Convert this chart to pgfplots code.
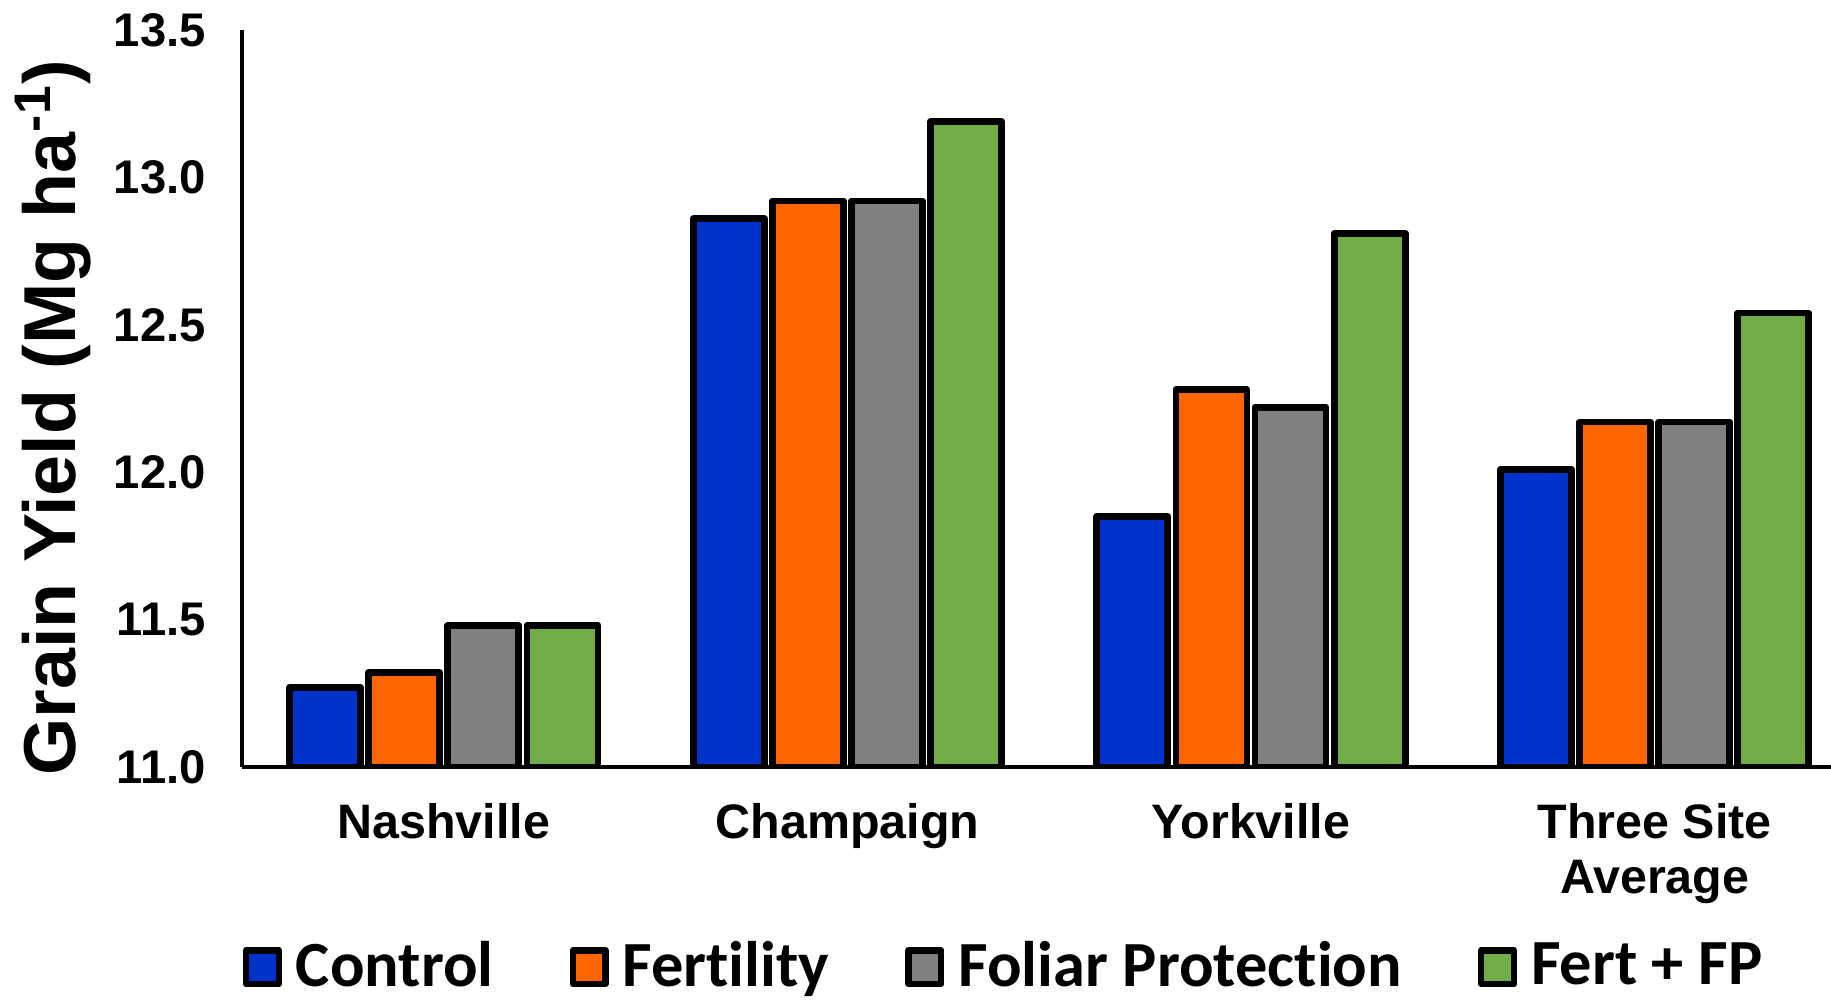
\documentclass[border=0pt]{standalone}
\usepackage{pgfplots}
\pgfplotsset{compat=1.18}
\usepackage{fontspec}
\setmainfont{Liberation Sans}
\newfontfamily\carlito[Ligatures={NoCommon}]{Carlito}
\definecolor{cBlue}{RGB}{0,51,204}
\definecolor{cOrange}{RGB}{255,102,0}
\definecolor{cGray}{RGB}{128,128,128}
\definecolor{cGreen}{RGB}{112,173,71}
\begin{document}
\begin{tikzpicture}
\useasboundingbox (-60.5pt,-58.25pt) rectangle (397.25pt,191.75pt);
\begin{axis}[
  scale only axis,
  width=397.25pt, height=184.25pt,
  xmin=-0.5, xmax=3.437, ymin=11, ymax=13.5,
  axis x line*=bottom, axis y line*=left,
  axis line style={line width=1.1pt, -},
  axis on top,
  xtick={0,1,2,3},
  xticklabels={Nashville,Champaign,Yorkville,{Three Site\\Average}},
  xticklabel style={align=center, font=\bfseries\fontsize{12.1}{13.7}\selectfont, yshift=-5.5pt},
  ytick={11,11.5,12,12.5,13,13.5},
  yticklabel style={font=\bfseries\fontsize{11.8}{13}\selectfont, /pgf/number format/assume math mode=true, /pgf/number format/fixed, /pgf/number format/fixed zerofill, /pgf/number format/precision=1, xshift=-5.5pt},
  major tick length=0pt,
  ylabel={Grain Yield (Mg ha\textsuperscript{-1})},
  ylabel style={at={(axis description cs:-0.1045,0.474)}, anchor=base, rotate=0, font=\bfseries\fontsize{18.4}{22}\selectfont},
  ybar, bar width=0.176,
  every axis plot/.append style={draw=black, line width=1.7pt, line join=round},
  legend columns=4,
  legend style={at={(axis description cs:0,-0.2715)}, anchor=west, draw=none, inner sep=0pt,
    font=\carlito\bfseries\fontsize{16.1}{18}\selectfont,
    /tikz/every even column/.append style={column sep=15.5pt},
    nodes={inner xsep=3.5pt, inner ysep=0pt}},
  legend image code/.code={\draw[#1, draw=black, line width=1.6pt, line join=round] (0.8pt,-4.2pt) rectangle (9pt,4.2pt);},
  clip=true,
]
\addplot[fill=cBlue, bar shift=-0.294] coordinates {(0,11.27) (1,12.86) (2,11.85) (3,12.01)};
\addplot[fill=cOrange, bar shift=-0.098] coordinates {(0,11.32) (1,12.92) (2,12.28) (3,12.17)};
\addplot[fill=cGray, bar shift=0.098] coordinates {(0,11.48) (1,12.92) (2,12.22) (3,12.17)};
\addplot[fill=cGreen, bar shift=0.294] coordinates {(0,11.48) (1,13.19) (2,12.81) (3,12.54)};
\legend{Control,Fertility,Foliar Protection,Fert + FP}
\end{axis}
\end{tikzpicture}
\end{document}
